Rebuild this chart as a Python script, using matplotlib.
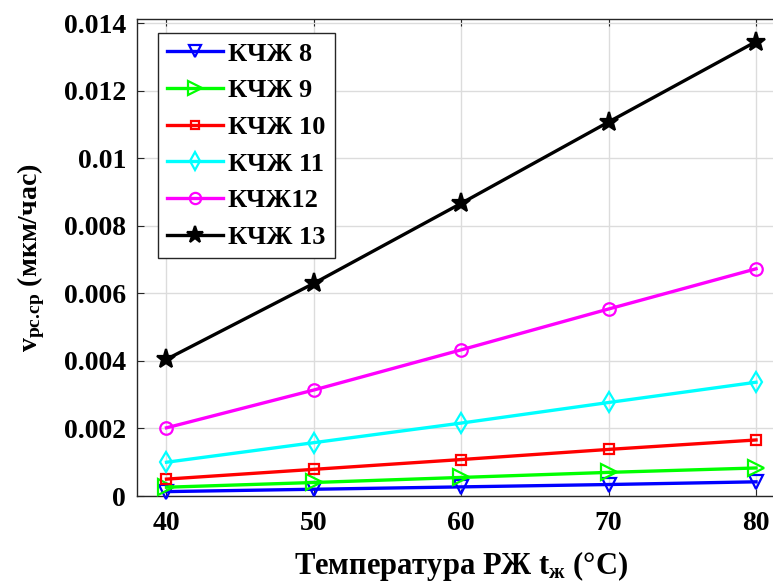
import matplotlib
matplotlib.use("Agg")
import matplotlib.pyplot as plt

plt.rcParams['font.family'] = ['Liberation Serif', 'DejaVu Serif']
plt.rcParams['font.weight'] = 'bold'
plt.rcParams['mathtext.fontset'] = 'custom'
plt.rcParams['mathtext.rm'] = 'Liberation Serif:bold'
plt.rcParams['mathtext.it'] = 'Liberation Serif:bold'
plt.rcParams['mathtext.bf'] = 'Liberation Serif:bold'

temps = [40, 50, 60, 70, 80]
kchzh8 = [0.00013, 0.00020, 0.00027, 0.00034, 0.00042]
kchzh9 = [0.00026, 0.00040, 0.00055, 0.00070, 0.00083]
kchzh10 = [0.00050, 0.00079, 0.00108, 0.00138, 0.00166]
kchzh11 = [0.00100, 0.00158, 0.00216, 0.00277, 0.00337]
kchzh12 = [0.00202, 0.00314, 0.00433, 0.00554, 0.00673]
kchzh13 = [0.00405, 0.00630, 0.00867, 0.01108, 0.01346]
labels = ['КЧЖ 8', 'КЧЖ 9', 'КЧЖ 10', 'КЧЖ 11', 'КЧЖ12', 'КЧЖ 13']
yticks = [0, 0.002, 0.004, 0.006, 0.008, 0.01, 0.012, 0.014]
yticklabels = ['0', '0.002', '0.004', '0.006', '0.008', '0.01', '0.012', '0.014']
xticks = [40, 50, 60, 70, 80]

series = [kchzh8, kchzh9, kchzh10, kchzh11, kchzh12, kchzh13]
colors = ['#0000ff', '#00ff00', '#ff0000', '#00ffff', '#ff00ff', '#000000']
markers = ['v', '>', 's', 'd', 'o', '*']
msizes = [10, 11, 7, 10, 9, 14]

fig = plt.figure(figsize=(7.73, 5.87), dpi=100)
ax = fig.add_axes([137/773, 1-496/587, (785.5-137)/773, (496-19)/587])

for ys, c, m, ms, lab in zip(series, colors, markers, msizes, labels):
    mfc = c if m == '*' else 'none'
    ax.plot(temps, ys, color=c, marker=m, markersize=ms, markerfacecolor=mfc,
            markeredgewidth=1.6, linewidth=2.4, label=lab, clip_on=False, zorder=3)

ax.set_xlim(38, 82)
ax.set_ylim(0, 0.01413)
ax.set_xticks(xticks)
ax.set_yticks(yticks)
ax.set_yticklabels(yticklabels)
ax.tick_params(axis='both', which='both', direction='in', labelsize=20, length=5,
               color='#262626', top=True, right=True)
ax.tick_params(axis='x', pad=11)
ax.tick_params(axis='y', pad=8)
for lab in ax.get_xticklabels() + ax.get_yticklabels():
    lab.set_fontweight('bold')
ax.grid(True, color='#dcdcdc', linewidth=1.0, zorder=0)
ax.set_axisbelow(True)
for sp in ax.spines.values():
    sp.set_color('#262626')
    sp.set_linewidth(1.0)

ax.set_xlabel('Температура РЖ t$_{ж}$ (°C)', fontsize=22, fontweight='bold', labelpad=9)
ax.set_ylabel(r'v$_{рс.\!ср}$ (мкм/час)', fontsize=20, fontweight='bold', labelpad=12)

leg = ax.legend(loc='upper left', bbox_to_anchor=(0.0324, 0.9706), borderaxespad=0,
                prop={'family': 'Liberation Serif', 'weight': 'bold', 'size': 19},
                fancybox=False, edgecolor='#262626', framealpha=1,
                handlelength=2.1, handletextpad=0.2, labelspacing=0.5, borderpad=0.35,
                markerscale=0.9)
leg.get_frame().set_linewidth(1.0)

fig.savefig('out.png', dpi=100)
